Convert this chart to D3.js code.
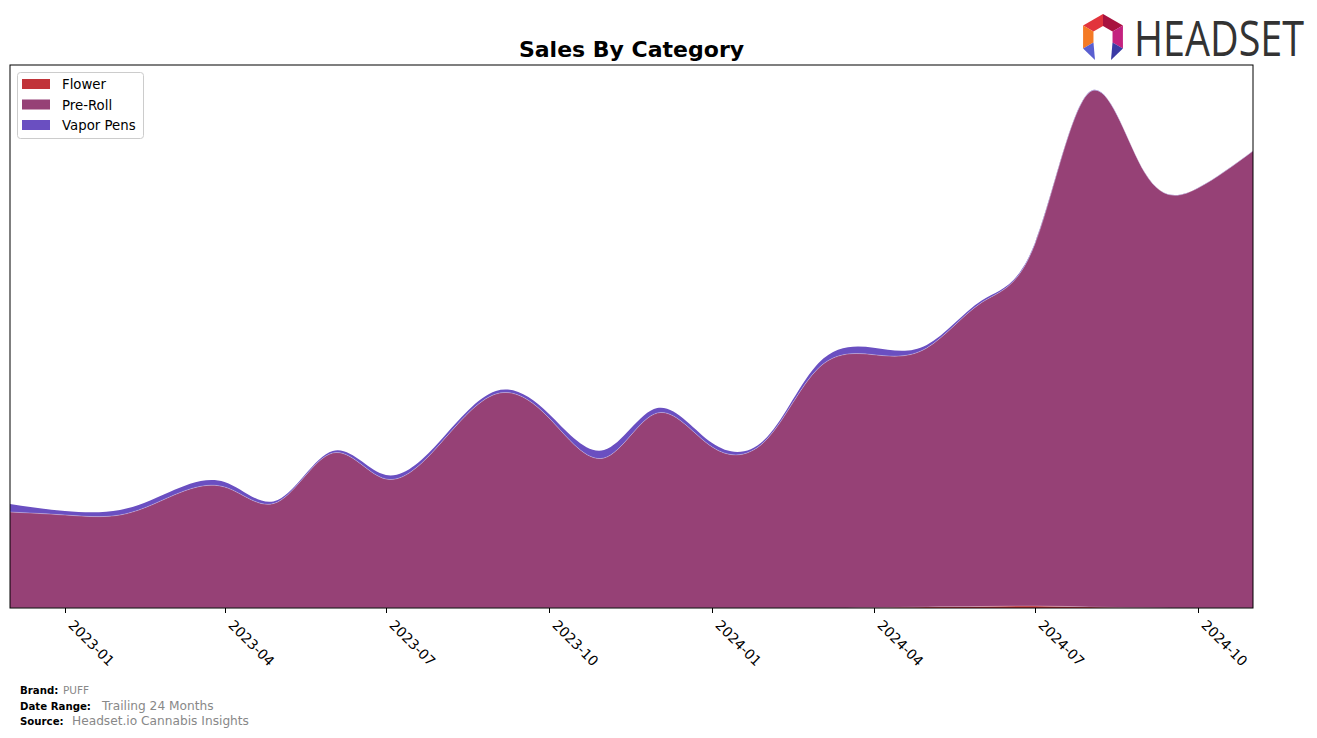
<!DOCTYPE html>
<html>
<head>
<meta charset="utf-8">
<script src="https://cdn.jsdelivr.net/npm/d3@7"></script>
<style>
  html, body { margin: 0; padding: 0; background: #fff; }
  svg { display: block; font-family: "DejaVu Sans", sans-serif; }
</style>
</head>
<body>
<svg id="chart" width="1317" height="738"></svg>
<script>
// ---- data (monthly) ----
const months = ["2022-12","2023-01","2023-02","2023-03","2023-04","2023-05","2023-06","2023-07",
  "2023-08","2023-09","2023-10","2023-11","2023-12","2024-01","2024-02","2024-03",
  "2024-04","2024-05","2024-06","2024-07","2024-08","2024-09","2024-10","2024-11"];
const categories = ["Flower", "Pre-Roll", "Vapor Pens"];
const flower    = [0,0,0,0,0,0,0,0,0,0,0,0,0,0,0,0,0.3,1,1.5,2,1,0.2,0,0];
const preRoll   = [96,93,93,111,121,106,155,129,165,214,190,150,195,161,169,240,253,259,304,362,515,435,420,457];
const vaporPens = [8,4,5,5,5,2,2,4,3,3,4,8,5,4,2,5,7,3,2,1,0.5,0.3,0.3,0.3];
const tickLabels = ["2023-01","2023-04","2023-07","2023-10","2024-01","2024-04","2024-07","2024-10"];
const colors = ["#c1343a", "#964176", "#6a4fc1"];

const svg = d3.select("#chart");
const parse = d3.timeParse("%Y-%m");
const L = 10, R = 1253, T = 65, B = 608;

const rows = months.map((m, i) => ({date: parse(m), "Flower": flower[i], "Pre-Roll": preRoll[i], "Vapor Pens": vaporPens[i]}));
const stack = d3.stack().keys(categories)(rows);

const x = d3.scaleTime().domain([parse(months[0]), parse(months[months.length-1])]).range([L, R]);
const y = d3.scaleLinear().domain([0, 543]).range([B, T]);

svg.append("defs").append("clipPath").attr("id", "plotclip")
  .append("rect").attr("x", L).attr("y", T).attr("width", R - L).attr("height", B - T);

const area = d3.area().curve(d3.curveNatural)
  .x(d => x(d.data.date)).y0(d => y(Math.max(0, d[0]))).y1(d => y(Math.max(0, d[1])));
const topLine = d3.line().curve(d3.curveNatural)
  .x(d => x(d.data.date)).y(d => y(Math.max(0, d[1])));

const g = svg.append("g").attr("clip-path", "url(#plotclip)");
stack.forEach((s, i) => {
  g.append("path").attr("d", area(s)).attr("fill", colors[i]);
});
stack.forEach((s, i) => {
  if (i < 2) g.append("path").attr("d", topLine(s)).attr("fill", "none")
    .attr("stroke", "#ffffff").attr("stroke-opacity", 0.35).attr("stroke-width", 0.8);
});

// frame
svg.append("rect").attr("x", L).attr("y", T).attr("width", R - L).attr("height", B - T)
  .attr("fill", "none").attr("stroke", "#000").attr("stroke-width", 1);

// x axis ticks
const tickDates = tickLabels.map(parse);
const axis = svg.append("g");
tickDates.forEach((d, i) => {
  const tx = Math.round(x(d)) + 0.5;
  axis.append("line").attr("x1", tx).attr("x2", tx).attr("y1", B).attr("y2", B + 5)
    .attr("stroke", "#000").attr("stroke-width", 1);
  axis.append("text").attr("transform", `translate(${tx + 2},${B + 18}) rotate(45)`)
    .attr("font-size", 13.9).attr("fill", "#000").text(tickLabels[i]);
});

// title
svg.append("text").attr("x", (L + R) / 2).attr("y", 57).attr("text-anchor", "middle")
  .attr("font-size", 22).attr("font-weight", "bold").text("Sales By Category");

// legend
const lg = svg.append("g");
lg.append("rect").attr("x", 17.5).attr("y", 72.5).attr("width", 126).attr("height", 66).attr("rx", 3)
  .attr("fill", "#fff").attr("fill-opacity", 0.8).attr("stroke", "#cccccc");
categories.forEach((c, i) => {
  const yy = 79 + i * 20.5;
  lg.append("rect").attr("x", 22).attr("y", yy).attr("width", 28).attr("height", 10).attr("fill", colors[i]);
  lg.append("text").attr("x", 62).attr("y", yy + 10).attr("font-size", 13.3).attr("fill", "#000").text(c);
});

// footer
const foot = [["Brand:", "PUFF", 63, 10.5], ["Date Range:", "Trailing 24 Months", 102, 12.2], ["Source:", "Headset.io Cannabis Insights", 72, 12.2]];
foot.forEach((f, i) => {
  const yy = 694 + i * 15.5;
  svg.append("text").attr("x", 20).attr("y", yy).attr("font-size", 10.2).attr("font-weight", "bold").attr("fill", "#000").text(f[0]);
  svg.append("text").attr("x", f[2]).attr("y", yy).attr("font-size", f[3]).attr("fill", "#888").text(f[1]);
});

// logo
const logo = svg.append("g");
const cx = 1103, cy = 37;
const ro = 23, ri = 11;
const P = (r, a) => [cx + r * Math.cos(a), cy + r * Math.sin(a)];
const segs = [
  [[-150, -90], "#e2343c"],
  [[-90, -30], "#a8123f"],
  [[-30, 30], "#c4227f"],
  [[150, 210], "#f47a25"]
];
segs.forEach(([a, col]) => {
  const a0 = a[0] * Math.PI / 180, a1 = a[1] * Math.PI / 180;
  const pts = [P(ro, a0), P(ro, a1), P(ri, a1), P(ri, a0)];
  logo.append("polygon").attr("points", pts.map(p => p.join(",")).join(" ")).attr("fill", col);
});
const la = 150 * Math.PI / 180, ra = 30 * Math.PI / 180;
const legL = [P(ro, la), P(ri, la), [cx - 8, cy + 23]];
const legR = [P(ro, ra), P(ri, ra), [cx + 8, cy + 23]];
logo.append("polygon").attr("points", legL.map(p => p.join(",")).join(" ")).attr("fill", "#5a5fd0");
logo.append("polygon").attr("points", legR.map(p => p.join(",")).join(" ")).attr("fill", "#3b3aa5");
logo.append("text").attr("transform", "translate(1134,56) scale(0.79,1)")
  .attr("font-family", "'Open Sans', 'DejaVu Sans', sans-serif")
  .attr("font-size", 50).attr("fill", "#333").text("HEADSET");
</script>
</body>
</html>
